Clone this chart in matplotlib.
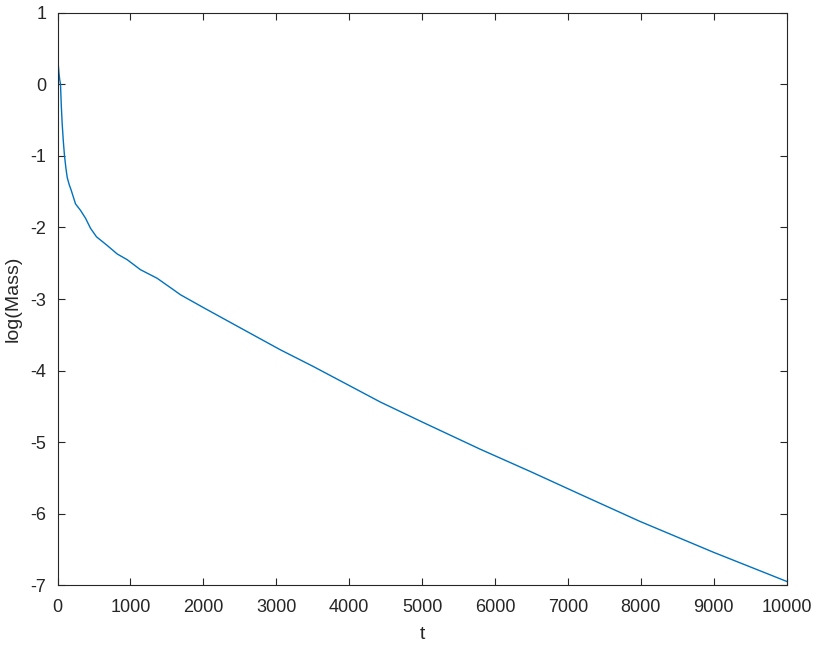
import matplotlib
matplotlib.use("Agg")
import matplotlib.pyplot as plt

t = [0, 10, 20, 30, 41, 52, 64, 80, 96, 115, 133, 160, 188, 247, 315, 384,
     452, 534, 680, 818, 955, 1137, 1366, 1589, 1685, 2000, 2500, 3055,
     3500, 4000, 4425, 5000, 5795, 6500, 7164, 7986, 8990, 10000]
log_mass = [0.44, 0.28, 0.16, 0.07, 0.0, -0.30, -0.55, -0.80, -1.0, -1.17,
            -1.30, -1.40, -1.48, -1.67, -1.76, -1.87, -2.01, -2.13, -2.25,
            -2.37, -2.45, -2.59, -2.71, -2.87, -2.94, -3.12, -3.40, -3.71,
            -3.94, -4.21, -4.44, -4.72, -5.10, -5.42, -5.73, -6.11, -6.54,
            -6.95]

xticks = [0, 1000, 2000, 3000, 4000, 5000, 6000, 7000, 8000, 9000, 10000]
yticks = [1, 0, -1, -2, -3, -4, -5, -6, -7]

plt.rcParams['font.family'] = ['Liberation Sans', 'DejaVu Sans']
plt.rcParams['axes.unicode_minus'] = False

fig = plt.figure(figsize=(8.17, 6.46), dpi=100)
ax = fig.add_axes([0.0704, 0.0944, 0.8926, 0.8855])
ax.plot(t, log_mass, color='#0072BD', lw=1.0)
ax.set_xlim(0, 10000)
ax.set_ylim(-7, 1)
ax.set_xticks(xticks)
ax.set_yticks(yticks)
ax.tick_params(axis='both', direction='in', length=5, width=0.8, labelsize=13,
               top=True, right=True, colors='#262626')
ax.tick_params(axis='x', pad=10)
ax.tick_params(axis='y', pad=8)
for s in ax.spines.values():
    s.set_color('#262626')
    s.set_linewidth(0.8)
ax.set_xlabel('t', fontsize=14, color='#262626', labelpad=7)
ax.set_ylabel('log(Mass)', fontsize=14, color='#262626', labelpad=6)
fig.savefig('out.png', dpi=100)
